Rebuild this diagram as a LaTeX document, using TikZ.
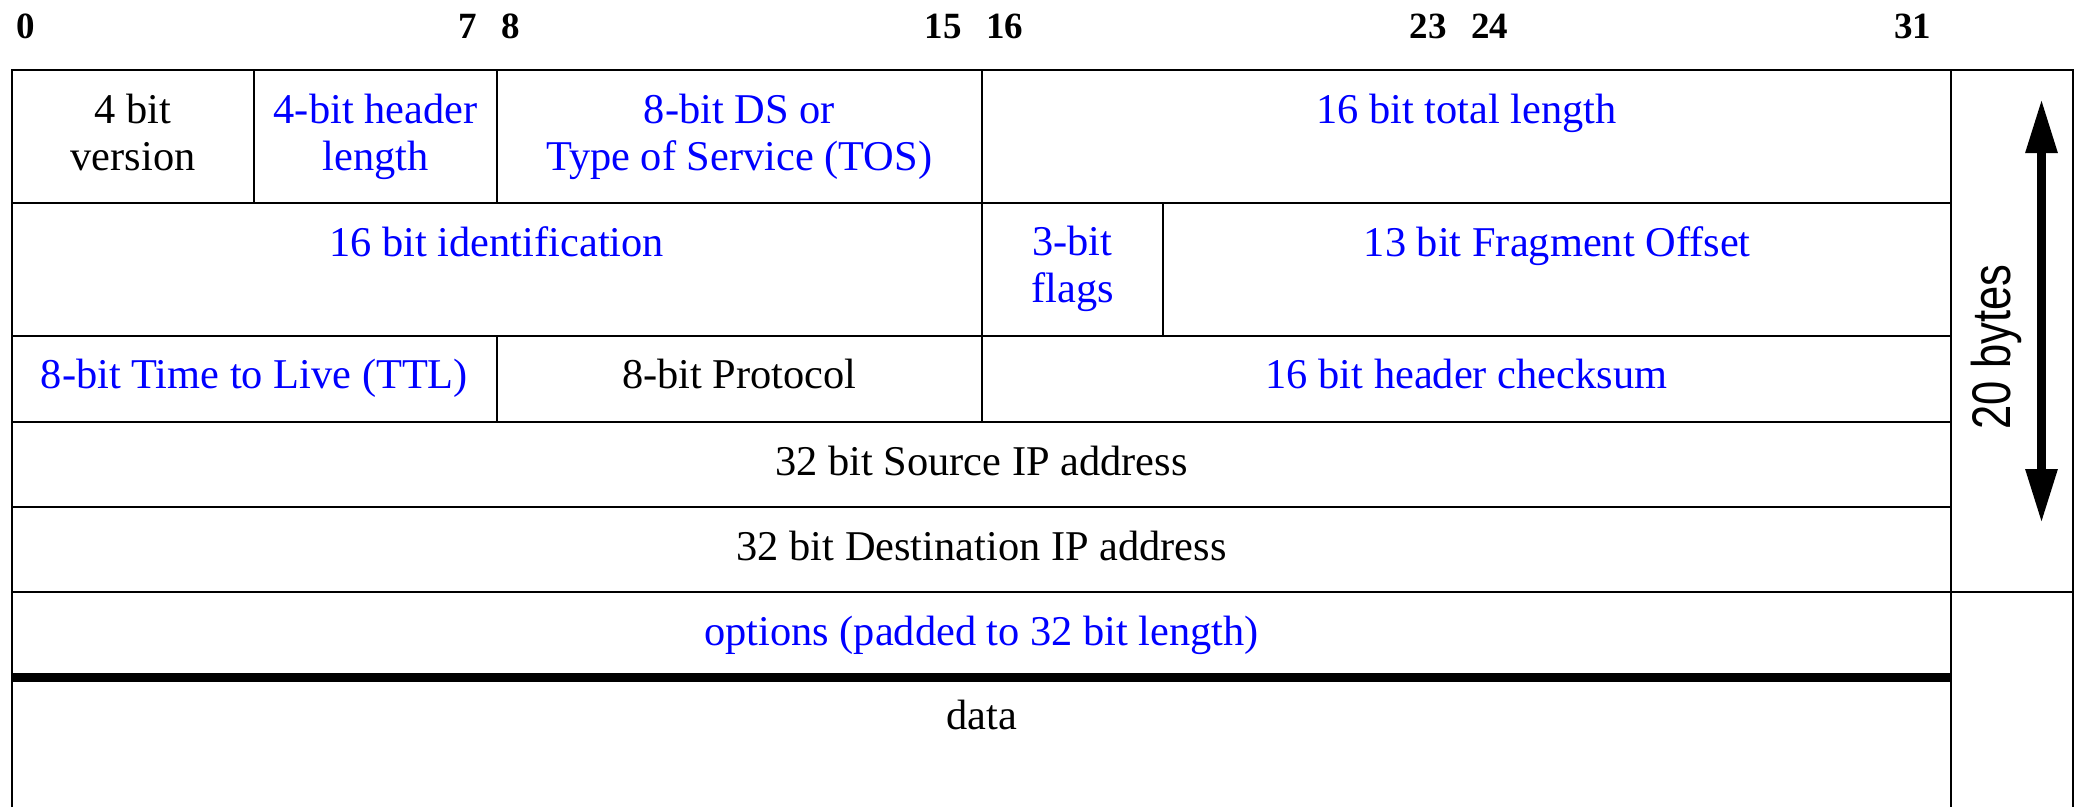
\documentclass[tikz,border=0pt]{standalone}
\usepackage{fontspec}
\setmainfont{Liberation Serif}
\newfontfamily\narrowsans[FakeStretch=0.8]{Liberation Sans}
\usetikzlibrary{arrows.meta}
\definecolor{hdrblue}{RGB}{0,0,255}
\tikzset{
  lbl/.style={anchor=north,inner sep=0pt,align=center,font=\fontsize{10.6}{11.8}\selectfont},
  bluelbl/.style={lbl,text=hdrblue},
  bitnum/.style={inner sep=0pt,font=\fontsize{9.25}{11}\selectfont\bfseries},
  rule/.style={line width=0.5pt},
}
\begin{document}
\begin{tikzpicture}[x=0.25pt,y=-0.25pt,>=Triangle]
  \useasboundingbox (0,0) rectangle (2081,807);
  % bit numbers
  \foreach \b/\x in {0/16,8/500.8,16/985.6,24/1470.4}
    \node[bitnum,anchor=base west] (b\b) at (\x,38) {\b};
  \foreach \b/\x in {7/477.8,15/962.6,23/1447.4,31/1932.2}
    \node[bitnum,anchor=base east] (b\b) at (\x,38) {\b};
  % frame and rows
  \draw[rule] (12,807) -- (12,70) -- (2073,70) -- (2073,807);
  \draw[rule] (1951.2,70) -- (1951.2,807);
  \draw[rule] (12,202.5) -- (1951.2,202.5);
  \draw[rule] (12,335.5) -- (1951.2,335.5);
  \draw[rule] (12,422) -- (1951.2,422);
  \draw[rule] (12,507) -- (1951.2,507);
  \draw[rule] (12,592) -- (2073,592);
  \draw[line width=2.25pt] (12,677.5) -- (1951.2,677.5);
  \draw[rule] (254.4,70) -- (254.4,202.5) (496.8,70) -- (496.8,202.5) (981.6,70) -- (981.6,335.5);
  \draw[rule] (1163.4,202.5) -- (1163.4,335.5);
  \draw[rule] (496.8,335.5) -- (496.8,422) (981.6,335.5) -- (981.6,422);
  % fields
  \node[lbl] (ver) at (133.2,93) {4 bit\\version};
  \node[bluelbl] (ihl) at (375.6,93) {4-bit header\\length};
  \node[bluelbl] (tos) at (739.2,93) {8-bit DS or\\Type of Service (TOS)};
  \node[bluelbl] (len) at (1466.4,93) {16 bit total length};
  \node[bluelbl] (ident) at (496.8,225.5) {16 bit identification};
  \node[bluelbl] (flags) at (1072.5,225.5) {3-bit\\flags};
  \node[bluelbl] (frag) at (1557.3,225.5) {13 bit Fragment Offset};
  \node[bluelbl] (ttl) at (254.4,358.5) {8-bit Time to Live (TTL)};
  \node[lbl] (proto) at (739.2,358.5) {8-bit Protocol};
  \node[bluelbl] (csum) at (1466.4,358.5) {16 bit header checksum};
  \node[lbl] (src) at (981.6,445) {32 bit Source IP address};
  \node[lbl] (dst) at (981.6,530) {32 bit Destination IP address};
  \node[bluelbl] (opt) at (981.6,615) {options (padded to 32 bit length)};
  \node[lbl] (data) at (981.6,699) {data};
  % header size
  \coordinate (hdrtop) at (2041.5,99);
  \coordinate (hdrbot) at (2041.5,523);
  \draw[line width=2.25pt,{Triangle[length=13.5pt,width=7.5pt]}-{Triangle[length=13.5pt,width=7.5pt]}] (hdrtop) -- (hdrbot);
  \node[inner sep=0pt,rotate=90,font=\narrowsans\fontsize{13.6}{15}\selectfont] (bytes) at (1996.5,347) {20 bytes};
\end{tikzpicture}
\end{document}
